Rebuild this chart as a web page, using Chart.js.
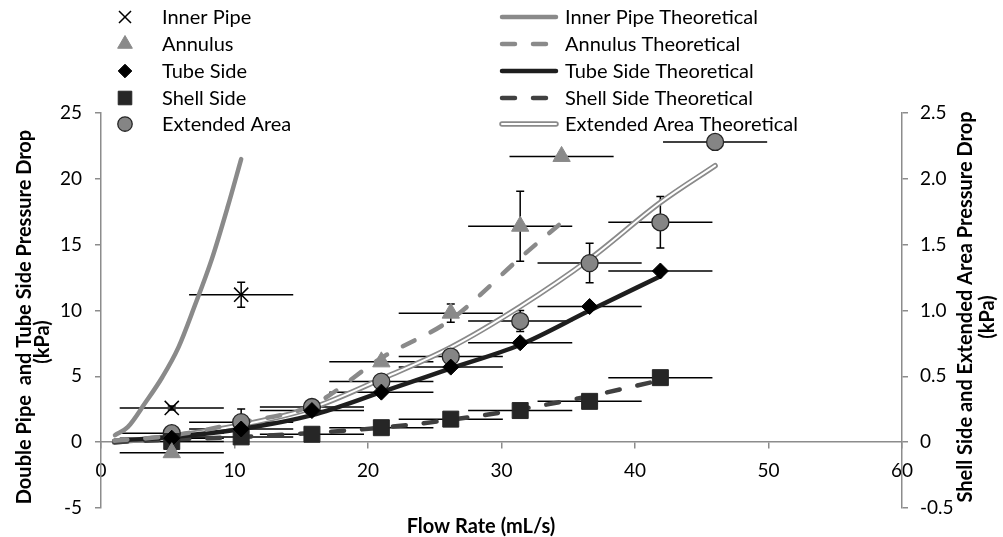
<!DOCTYPE html>
<html>
<head>
<meta charset="utf-8">
<title>Pressure Drop vs Flow Rate</title>
<script src="https://cdn.jsdelivr.net/npm/chart.js"></script>
<style>
  body { margin: 0; background: #fff; }
  #wrap { width: 1003px; height: 537px; }
</style>
</head>
<body>
<div id="wrap"><canvas id="chart" width="1003" height="537"></canvas></div>
<script>
// flow rates (mL/s) and the +/- on each flow reading
const flowRates = [5.3, 10.5, 15.8, 21.0, 26.2, 31.4, 36.6, 41.9];
const flowErr = 3.9;

// measured, left axis (kPa)
const innerPipeX = [5.3, 10.5];
const innerPipe = [2.6, 11.2];
const innerPipeErr = [0.15, 0.95];

const annulusX = [5.3, 21.0, 26.2, 31.4, 34.5];
const annulus = [-0.8, 6.1, 9.8, 16.4, 21.7];
const annulusErr = [0, 0, 0.7, 2.65, 0];

const tubeSide = [0.3, 1.0, 2.4, 3.8, 5.7, 7.55, 10.3, 13.0];
const tubeSideErr = [0, 0, 0, 0, 0, 0, 0, 0];

// measured, right axis (kPa)
const shellSide = [0.005, 0.04, 0.06, 0.11, 0.175, 0.24, 0.31, 0.49];
const shellSideErr = [0, 0, 0, 0, 0, 0, 0, 0];
const extendedX = [5.3, 10.5, 15.8, 21.0, 26.2, 31.4, 36.6, 41.9, 46.0];
const extendedArea = [0.068, 0.152, 0.267, 0.46, 0.65, 0.92, 1.36, 1.67, 2.28];
const extendedErr = [0, 0.1, 0.045, 0, 0.03, 0.08, 0.15, 0.195, 0];

// theoretical curves
const innerPipeThX = [1.05, 2.0, 3.3, 4.6, 5.8, 7.0, 8.3, 9.5, 10.5];
const innerPipeTh = [0.53, 1.14, 2.97, 4.95, 7.2, 10.3, 13.9, 17.9, 21.5];
const annulusThX = [1.0, 5.3, 10.5, 15.8, 21.0, 26.2, 31.4, 34.3];
const annulusTh = [0.1, 0.5, 1.5, 2.8, 6.4, 9.3, 14.0, 16.5];
const theoryX = [1.0, 5.3, 10.5, 15.8, 21.0, 26.2, 31.4, 36.6, 41.9];
const tubeSideTh = [0.1, 0.4, 1.0, 2.05, 3.8, 5.6, 7.4, 10.0, 12.6];
const shellSideTh = [0.0, 0.02, 0.04, 0.07, 0.11, 0.17, 0.25, 0.35, 0.47];
const extendedThX = [1.0, 5.3, 10.5, 15.8, 21.0, 26.2, 31.4, 36.6, 41.9, 46.0];
const extendedTh = [0.0, 0.045, 0.13, 0.26, 0.48, 0.72, 1.03, 1.39, 1.82, 2.1];

const xTicks = [0, 10, 20, 30, 40, 50, 60];
const yLeftTicks = [-5, 0, 5, 10, 15, 20, 25];
const yRightTicks = [-0.5, 0, 0.5, 1, 1.5, 2, 2.5];

const pts = (xs, ys) => xs.map((x, i) => ({ x: x, y: ys[i] }));

const GREY = "#8a8a8a";
const AXIS = "#8c8c8c";
const FONT = "Lato";

Chart.defaults.font.family = FONT;
Chart.defaults.font.size = 19;
Chart.defaults.color = "#000";

function marker(name, data, yAxisID, style, radius, fill, border, bw, err) {
  return {
    label: name, data: data, yAxisID: yAxisID, showLine: false,
    pointStyle: style, pointRadius: radius, pointHoverRadius: radius,
    pointBackgroundColor: fill, pointBorderColor: border, pointBorderWidth: bw,
    errorY: err
  };
}

function curve(name, data, yAxisID, color, width, dash) {
  return {
    label: name, data: data, yAxisID: yAxisID, showLine: true,
    borderColor: color, borderWidth: width, borderDash: dash || [],
    borderCapStyle: "round", borderJoinStyle: "round",
    cubicInterpolationMode: "monotone", pointRadius: 0, pointHoverRadius: 0,
    fill: false
  };
}

// data markers first so they sit on top of the curves
const datasets = [
  marker("Inner Pipe", pts(innerPipeX, innerPipe), "y", "crossRot", 10, "#000", "#000", 1.5, innerPipeErr),
  marker("Annulus", pts(annulusX, annulus), "y", "triangle", 10, GREY, GREY, 1, annulusErr),
  marker("Tube Side", pts(flowRates, tubeSide), "y", "rectRot", 8, "#000", "#000", 1, tubeSideErr),
  marker("Shell Side", pts(flowRates, shellSide), "y2", "rect", 11.3, "#262626", "#262626", 1, shellSideErr),
  marker("Extended Area", pts(extendedX, extendedArea), "y2", "circle", 8.5, "#858585", "#262626", 1.3, extendedErr),
  curve("Inner Pipe Theoretical", pts(innerPipeThX, innerPipeTh), "y", GREY, 4.5),
  curve("Annulus Theoretical", pts(annulusThX, annulusTh), "y", GREY, 4.5, [13, 18]),
  curve("Tube Side Theoretical", pts(theoryX, tubeSideTh), "y", "#1e1e1e", 4.5),
  curve("Shell Side Theoretical", pts(theoryX, shellSideTh), "y2", "#404040", 4.5, [13, 18]),
  curve("Extended Area Theoretical", pts(extendedThX, extendedTh), "y2", "#fff", 2),
  curve("Extended Area Theoretical outline", pts(extendedThX, extendedTh), "y2", GREY, 5.5)
];

// horizontal (flow) and vertical (pressure) error bars
const errorBars = {
  id: "errorBars",
  beforeDatasetsDraw(chart) {
    const ctx = chart.ctx;
    const xs = chart.scales.x;
    ctx.save();
    ctx.strokeStyle = "#000";
    ctx.lineWidth = 1.5;
    chart.data.datasets.forEach((ds) => {
      if (!ds.errorY) return;
      const ys = chart.scales[ds.yAxisID];
      ds.data.forEach((p, j) => {
        const px = xs.getPixelForValue(p.x);
        const py = ys.getPixelForValue(p.y);
        ctx.beginPath();
        ctx.moveTo(xs.getPixelForValue(p.x - flowErr), py);
        ctx.lineTo(xs.getPixelForValue(p.x + flowErr), py);
        const e = ds.errorY[j];
        if (e > 0) {
          const t = ys.getPixelForValue(p.y + e);
          const b = ys.getPixelForValue(p.y - e);
          ctx.moveTo(px, t); ctx.lineTo(px, b);
          ctx.moveTo(px - 4, t); ctx.lineTo(px + 4, t);
          ctx.moveTo(px - 4, b); ctx.lineTo(px + 4, b);
        }
        ctx.stroke();
      });
    });
    ctx.restore();
  }
};

function vText(ctx, text, x, y) {
  ctx.save();
  ctx.translate(x, y);
  ctx.rotate(-Math.PI / 2);
  ctx.fillText(text, 0, 0);
  ctx.restore();
}

// two-column legend and axis titles
const legendAndTitles = {
  id: "legendAndTitles",
  afterDraw(chart) {
    const ctx = chart.ctx;
    const ds = chart.data.datasets;
    const rows = [17, 44, 71, 98, 124];
    ctx.save();
    ctx.font = "20px " + FONT;
    ctx.fillStyle = "#000";
    ctx.textAlign = "left";
    ctx.textBaseline = "middle";
    for (let i = 0; i < 5; i++) {
      const m = ds[i];
      ctx.save();
      ctx.fillStyle = m.pointBackgroundColor;
      ctx.strokeStyle = m.pointBorderColor;
      ctx.lineWidth = m.pointBorderWidth;
      Chart.helpers.drawPoint(ctx, {
        pointStyle: m.pointStyle, radius: m.pointRadius * 0.85,
        rotation: 0, borderWidth: m.pointBorderWidth
      }, 125, rows[i]);
      ctx.restore();
      ctx.fillText(m.label, 162, rows[i] + 1);

      const c = ds[i + 5];
      ctx.save();
      ctx.lineCap = "round";
      if (i === 4) {
        ctx.strokeStyle = GREY; ctx.lineWidth = 5.5;
        ctx.beginPath(); ctx.moveTo(502, rows[i]); ctx.lineTo(556, rows[i]); ctx.stroke();
      }
      ctx.strokeStyle = c.borderColor;
      ctx.lineWidth = c.borderWidth;
      ctx.setLineDash(c.borderDash);
      ctx.beginPath(); ctx.moveTo(502, rows[i]); ctx.lineTo(556, rows[i]); ctx.stroke();
      ctx.restore();
      ctx.fillText(c.label, 565, rows[i] + 1);
    }

    ctx.font = "bold 20px " + FONT;
    ctx.textAlign = "center";
    ctx.fillText("Flow Rate (mL/s)", 481, 527);
    vText(ctx, "Double Pipe  and Tube Side Pressure Drop", 25, 317);
    vText(ctx, "(kPa)", 43, 342);
    vText(ctx, "Shell Side and Extended Area Pressure Drop", 966, 307);
    vText(ctx, "(kPa)", 988, 317);
    ctx.restore();
  }
};

function fixedTicks(values) {
  return (scale) => { scale.ticks = values.map((v) => ({ value: v })); };
}

const axisGrid = {
  display: true, drawOnChartArea: false, drawTicks: true,
  tickLength: 6, color: AXIS, lineWidth: 1.5
};
const axisBorder = { display: true, color: AXIS, width: 1.5 };

new Chart(document.getElementById("chart"), {
  type: "scatter",
  data: { datasets: datasets },
  options: {
    responsive: false,
    devicePixelRatio: 1,
    animation: false,
    layout: { padding: { top: 113, bottom: 29, left: 0, right: 0 } },
    plugins: { legend: { display: false }, tooltip: { enabled: false } },
    scales: {
      x: {
        type: "linear", min: 0, max: 60, position: { y: 0 },
        afterBuildTicks: fixedTicks(xTicks),
        grid: axisGrid, border: axisBorder,
        ticks: { padding: 11, maxRotation: 0 }
      },
      y: {
        type: "linear", position: "left", min: -5, max: 25,
        afterBuildTicks: fixedTicks(yLeftTicks),
        afterFit: (s) => { s.width = 101; },
        grid: axisGrid, border: axisBorder,
        ticks: { padding: 13 }
      },
      y2: {
        type: "linear", position: "right", min: -0.5, max: 2.5,
        afterBuildTicks: fixedTicks(yRightTicks),
        afterFit: (s) => { s.width = 101; },
        grid: axisGrid, border: axisBorder,
        ticks: { padding: 12 }
      }
    }
  },
  plugins: [errorBars, legendAndTitles]
});
</script>
</body>
</html>
